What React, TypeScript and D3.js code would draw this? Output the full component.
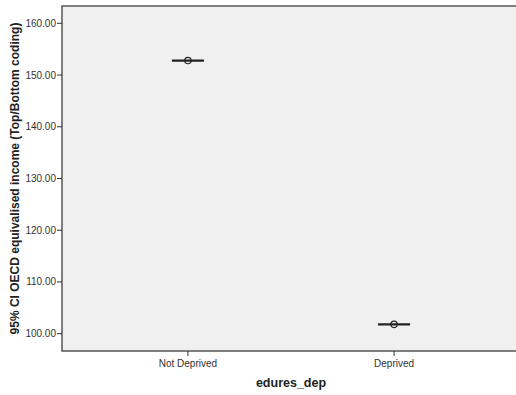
import * as d3 from "d3";

const categories = ["Not Deprived", "Deprived"];
const means = [152.8, 101.8];
const lower = [152.72, 101.72];
const upper = [152.88, 101.88];
const yTicks = [100, 110, 120, 130, 140, 150, 160];

export default function App() {
  const W = 516;
  const H = 395;
  const m = { left: 62, top: 6, right: -4, bottom: 44 };
  const x = d3
    .scalePoint<string>()
    .domain(categories)
    .range([m.left, W - m.right])
    .padding(0.611);
  const y = d3
    .scaleLinear()
    .domain([96.65, 163.35])
    .range([H - m.bottom, m.top]);
  const font = "Arial, 'Liberation Sans', sans-serif";

  return (
    <svg
      width={W}
      height={H}
      style={{ position: "absolute", left: 0, top: 0 }}
      fontFamily={font}
    >
      <rect x={0} y={0} width={W} height={H} fill="#fff" />
      <rect
        x={m.left}
        y={m.top}
        width={W - m.right - m.left}
        height={H - m.bottom - m.top}
        fill="#f0f0f0"
        stroke="#555"
        strokeWidth={1.5}
      />
      {yTicks.map((t) => (
        <g key={t}>
          <line x1={m.left - 5} x2={m.left} y1={y(t)} y2={y(t)} stroke="#333" />
          <text
            x={m.left - 6}
            y={y(t)}
            dy="0.35em"
            textAnchor="end"
            fontSize={10}
            fill="#333"
          >
            {t.toFixed(2)}
          </text>
        </g>
      ))}
      {categories.map((c, i) => (
        <g key={c}>
          <line
            x1={x(c)}
            x2={x(c)}
            y1={H - m.bottom}
            y2={H - m.bottom + 5}
            stroke="#333"
          />
          <text
            x={x(c)}
            y={H - m.bottom + 16}
            textAnchor="middle"
            fontSize={10}
            fill="#333"
          >
            {c}
          </text>
          <line
            x1={x(c)! - 16}
            x2={x(c)! + 16}
            y1={y(upper[i])}
            y2={y(upper[i])}
            stroke="#222"
            strokeWidth={1.5}
          />
          <line
            x1={x(c)! - 16}
            x2={x(c)! + 16}
            y1={y(lower[i])}
            y2={y(lower[i])}
            stroke="#222"
            strokeWidth={1.5}
          />
          <line
            x1={x(c)}
            x2={x(c)}
            y1={y(upper[i])}
            y2={y(lower[i])}
            stroke="#222"
          />
          <circle
            cx={x(c)}
            cy={y(means[i])}
            r={3.2}
            fill="none"
            stroke="#222"
            strokeWidth={1.2}
          />
        </g>
      ))}
      <text
        x={(m.left + W - m.right) / 2}
        y={387}
        textAnchor="middle"
        fontSize={12.5}
        fontWeight="bold"
        fill="#222"
      >
        edures_dep
      </text>
      <text
        transform={`translate(19,${(m.top + H - m.bottom) / 2}) rotate(-90)`}
        textAnchor="middle"
        fontSize={12}
        fontWeight="bold"
        fill="#222"
      >
        95% CI OECD equivalised income (Top/Bottom coding)
      </text>
    </svg>
  );
}
